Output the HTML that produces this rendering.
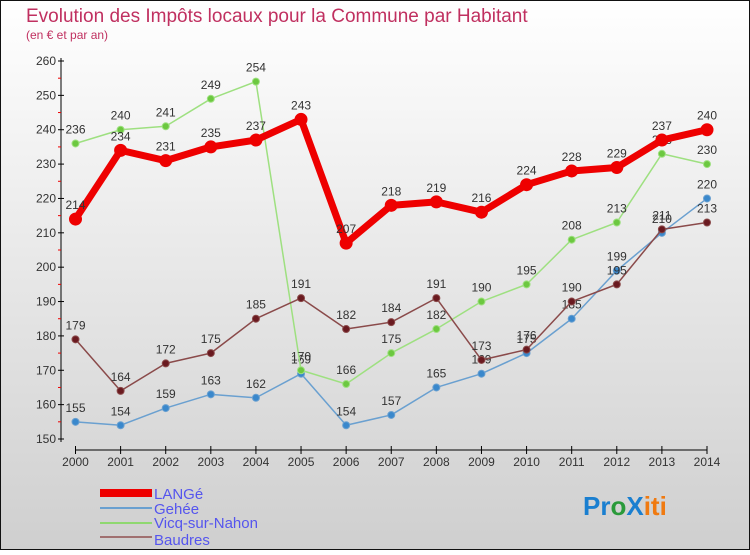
<!DOCTYPE html>
<html><head><meta charset="utf-8"><style>
body{margin:0}
svg text{font-family:"Liberation Sans",sans-serif}
</style></head><body>
<svg id="c" width="750" height="550" xmlns="http://www.w3.org/2000/svg">
<defs><linearGradient id="bg" x1="0" y1="0" x2="0" y2="1"><stop offset="0" stop-color="#ffffff"/><stop offset="1" stop-color="#cfcfcf"/></linearGradient></defs>
<rect x="0.5" y="0.5" width="749" height="549" fill="url(#bg)" stroke="#111"/>
<text x="26" y="22" font-size="19" fill="#c03060">Evolution des Impôts locaux pour la Commune par Habitant</text>
<text x="26" y="39" font-size="12" fill="#c03060">(en € et par an)</text>
<g id="axes"></g><g id="series"></g>
<g>
<rect x="100" y="489" width="52" height="8" fill="#e00"/>
<text x="154" y="499" font-size="15" fill="#5555ee">LANGé</text>
<line x1="100" y1="508" x2="152" y2="508" stroke="#6aa0d0" stroke-width="2"/>
<text x="154" y="514" font-size="15" fill="#5555ee">Gehée</text>
<line x1="100" y1="523" x2="152" y2="523" stroke="#8fd870" stroke-width="2"/>
<text x="154" y="528" font-size="15" fill="#5555ee">Vicq-sur-Nahon</text>
<line x1="100" y1="537" x2="152" y2="537" stroke="#a07070" stroke-width="2"/>
<text x="154" y="545" font-size="15" fill="#5555ee">Baudres</text>
</g>
<text x="583" y="515" font-size="26" font-weight="bold"><tspan fill="#1a7fd0">Pr</tspan><tspan fill="#2a9a3a">o</tspan><tspan fill="#1a7fd0">X</tspan><tspan fill="#f07a10">iti</tspan></text>
</svg>
<script>
const years=[2000,2001,2002,2003,2004,2005,2006,2007,2008,2009,2010,2011,2012,2013,2014];
const yTicks=[150,160,170,180,190,200,210,220,230,240,250,260];
const lange=[214,234,231,235,237,243,207,218,219,216,224,228,229,237,240];
const gehee=[155,154,159,163,162,169,154,157,165,169,175,185,199,210,220];
const vicq=[236,240,241,249,254,170,166,175,182,190,195,208,213,233,230];
const baudres=[179,164,172,175,185,191,182,184,191,173,176,190,195,211,213];
const NS="http://www.w3.org/2000/svg";
const x=i=>75.5+i*(707-75.5)/(years.length-1);
const y=v=>439-(v-150)*(439-61)/110;
function mk(t,a,p){const e=document.createElementNS(NS,t);for(const k in a)e.setAttribute(k,a[k]);p.appendChild(e);return e;}
const ax=document.getElementById('axes');
let l=mk('line',{x1:61,y1:58,x2:61,y2:442,stroke:'#000'},ax);


l=mk('line',{x1:75,y1:450,x2:707,y2:450,stroke:'#000'},ax);


yTicks.forEach((v,i)=>{
 mk('line',{x1:58,y1:y(v),x2:64,y2:y(v),stroke:'#000'},ax);
 if(i<yTicks.length-1) mk('line',{x1:58,y1:y(v+5),x2:61,y2:y(v+5),stroke:'#e00'},ax);
 const t=mk('text',{x:56,y:y(v)+4,'font-size':12,'text-anchor':'end',fill:'#333'},ax);
 t.textContent=v;
 
 
});
years.forEach((yr,i)=>{
 mk('line',{x1:x(i),y1:446,x2:x(i),y2:454,stroke:'#000'},ax);
 const t=mk('text',{x:x(i),y:466,'font-size':12,'text-anchor':'middle',fill:'#333'},ax);
 t.textContent=yr;
 
 
});
const sg=document.getElementById('series');
function draw(data,name,color,fill,w,r){
 const g=mk('g',{},sg);
 
 
 const p=mk('polyline',{points:data.map((v,i)=>x(i)+','+y(v)).join(' '),fill:'none',stroke:color,'stroke-width':w,'stroke-linejoin':'round'},g);
 
 
 data.forEach((v,i)=>{
  const c=mk('circle',{cx:x(i),cy:y(v),r:r,fill:fill,stroke:color,'stroke-width':1},g);
  
  
  const t=mk('text',{x:x(i),y:y(v)-10,'font-size':12,'text-anchor':'middle',fill:'#333'},g);
  t.textContent=v;
  
  
 });
}
draw(gehee,'gehee','#6aa0d0','#3a88cc',1.5,3.5);
draw(vicq,'vicq','#9ee080','#6cc840',1.5,3.5);
draw(baudres,'baudres','#8a4a4a','#6a1a20',1.5,3.5);
draw(lange,'lange','#ee0000','#ee0000',7,6);
</script>
</body></html>
